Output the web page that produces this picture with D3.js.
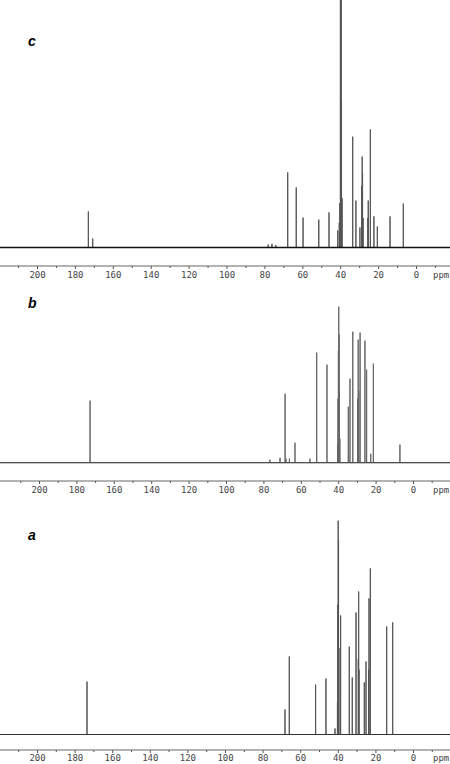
<!DOCTYPE html>
<html lang="en">
<head>
<meta charset="utf-8">
<script src="https://cdn.jsdelivr.net/npm/d3@7/dist/d3.min.js"></script>
<style>
  body { margin: 0; background: #fff; }
  svg { display: block; }
  .tick text { font-family: "DejaVu Sans Mono", "Liberation Mono", monospace; font-size: 9px; fill: #444; }
  .tick line { stroke: #555; }
  .lbl { font-family: "Liberation Sans", Arial, sans-serif; font-size: 14px; font-weight: bold; font-style: italic; }
</style>
</head>
<body>
<svg id="chart" width="450" height="764"></svg>
<script>
// peak lists, [ppm, relative intensity]
var peaksC = [
  [172.9, 14.6], [170.6, 3.6], [78, 1.2], [76, 1.5], [74, 1.0],
  [67.7, 30.4], [63.2, 24.3], [59.6, 12.1], [51.3, 11.3], [45.9, 14.2],
  [41.3, 6.9], [40.5, 10], [40.2, 18], [39.9, 110], [39.7, 110], [39.5, 110], [39.3, 60], [39.0, 20],
  [33.4, 44.9], [31.7, 19], [29.6, 8.1], [28.6, 25], [28.4, 36.8], [28.2, 30], [27.9, 12],
  [25.4, 12], [25.2, 19], [24.1, 47.8], [22.2, 12.6], [20.4, 8.5], [13.7, 12.6], [6.7, 17.8]
];
var peaksB = [
  [172.7, 38.8], [76.5, 1.9], [71.1, 3.1], [68.4, 43.1], [67.9, 2.5], [66.1, 2.5],
  [63.1, 12.5], [55.1, 2.5], [51.5, 68.8], [46.0, 61.3],
  [40.3, 12], [40.1, 40], [39.9, 70], [39.7, 97.5], [39.5, 80], [39.3, 45], [39.1, 15],
  [34.6, 35], [33.7, 52.5], [32.2, 81.9], [29.6, 40], [29.3, 76.9], [29.0, 45],
  [28.3, 81.3], [25.7, 76.3], [24.8, 58.1], [22.6, 5.6], [21.2, 61.9], [7.0, 11.3]
];
var peaksA = [
  [173.4, 24.5], [68.1, 11.6], [65.8, 36.1], [51.8, 23.1], [46.3, 25.9], [41.5, 2.8],
  [40.2, 15], [40.0, 60], [39.8, 99], [39.6, 90], [39.4, 40], [38.5, 55.1],
  [33.9, 40.7], [32.3, 26.4], [30.3, 56.5], [29.1, 35], [28.9, 66.2], [28.7, 30],
  [25.9, 24.1], [25.0, 33.8], [23.6, 30], [23.4, 63], [22.7, 76.9], [14.0, 50], [10.8, 51.9]
];
var majorTicks = [200, 180, 160, 140, 120, 100, 80, 60, 40, 20, 0];
var minorTicks = [210, 190, 170, 150, 130, 110, 90, 70, 50, 30, 10, -10];

var svg = d3.select("#chart"),
    width = +svg.attr("width");

var panels = [
  { name: "c", peaks: peaksC, x200: 37, x0: 416, base: 247.5, full: 247, axisY: 266, lblY: 46, pad: 3, stroke: "#555", baseStroke: "#111", baseW: 1.6 },
  { name: "b", peaks: peaksB, x200: 39, x0: 413, base: 462.7, full: 160, axisY: 481, lblY: 308, pad: 3, stroke: "#666", baseStroke: "#444", baseW: 1 },
  { name: "a", peaks: peaksA, x200: 37, x0: 413, base: 734.5, full: 216, axisY: 750, lblY: 540, pad: 2, stroke: "#555", baseStroke: "#333", baseW: 1.1 }
];

panels.forEach(function (p) {
  var x = d3.scaleLinear().domain([200, 0]).range([p.x200, p.x0]);
  var y = d3.scaleLinear().domain([0, 100]).range([p.base, p.base - p.full]);
  var g = svg.append("g");

  // spectrum: baseline with a spike per peak
  var pts = [[x.invert(0), 0]];
  p.peaks.slice().sort(function (a, b) { return b[0] - a[0]; }).forEach(function (d) {
    pts.push([d[0], 0], [d[0], d[1]], [d[0], 0]);
  });
  pts.push([x.invert(width), 0]);
  var line = d3.line()
    .x(function (d) { return x(d[0]); })
    .y(function (d) { return y(d[1]); });
  g.append("path")
    .attr("d", line(pts))
    .attr("fill", "none")
    .attr("stroke", p.stroke)
    .attr("stroke-width", 1);
  g.append("line")
    .attr("x1", 0).attr("x2", width)
    .attr("y1", y(0)).attr("y2", y(0))
    .attr("stroke", p.baseStroke)
    .attr("stroke-width", p.baseW);

  // axis
  g.append("line")
    .attr("x1", 0).attr("x2", width)
    .attr("y1", p.axisY).attr("y2", p.axisY)
    .attr("stroke", "#666");
  var minor = g.append("g")
    .attr("transform", "translate(0," + p.axisY + ")")
    .call(d3.axisBottom(x).tickValues(minorTicks).tickSize(2).tickFormat(""));
  var major = g.append("g")
    .attr("transform", "translate(0," + p.axisY + ")")
    .call(d3.axisBottom(x).tickValues(majorTicks).tickSize(3).tickPadding(p.pad));
  minor.select(".domain").remove();
  major.select(".domain").remove();

  g.append("text")
    .attr("x", 433)
    .attr("y", p.axisY + 9 + p.pad)
    .attr("font-family", "DejaVu Sans Mono, monospace")
    .attr("font-size", 9)
    .attr("fill", "#444")
    .text("ppm");

  g.append("text")
    .attr("class", "lbl")
    .attr("x", 28)
    .attr("y", p.lblY)
    .text(p.name);
});
</script>
</body>
</html>
